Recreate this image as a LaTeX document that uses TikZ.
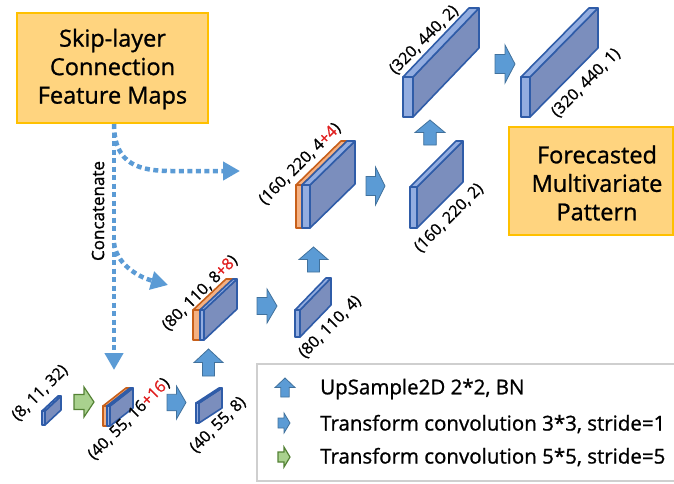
\documentclass[tikz,border=0pt]{standalone}
\usepackage{fontspec}
\setmainfont{Open Sans}[FakeBold=1]
\usetikzlibrary{arrows.meta}
\definecolor{boxfill}{HTML}{FFD47F}
\definecolor{boxline}{HTML}{FFC000}
\definecolor{dotblue}{HTML}{5B9BD5}
\definecolor{arrfill}{HTML}{5B9BD5}
\definecolor{arrline}{HTML}{41719C}
\definecolor{grnfill}{HTML}{A9D18E}
\definecolor{grnline}{HTML}{548235}
\definecolor{sidefill}{HTML}{7B8EBD}
\definecolor{frontfill}{HTML}{93ADE0}
\definecolor{slabline}{HTML}{2F5CA8}
\definecolor{orfill}{HTML}{F4B183}
\definecolor{orline}{HTML}{C8601A}
\definecolor{plusred}{HTML}{E02020}
\definecolor{legline}{HTML}{CFCFCF}
\newcommand{\slab}[7]{%
 \pgfmathsetmacro\slXa{#1}\pgfmathsetmacro\slXb{#1+#3}%
 \pgfmathsetmacro\slYb{#2}\pgfmathsetmacro\slYt{#2-#4}%
 \pgfmathsetmacro\slXc{#1+#5}\pgfmathsetmacro\slXd{#1+#3+#5}%
 \pgfmathsetmacro\slYtt{#2-#4-#6}\pgfmathsetmacro\slYbb{#2-#6}%
 \draw[#7 side] (\slXb,\slYb) -- (\slXb,\slYt) -- (\slXd,\slYtt) -- (\slXd,\slYbb) -- cycle;
 \draw[#7 front] (\slXa,\slYb) rectangle (\slXb,\slYt);
 \draw[#7 front] (\slXa,\slYt) -- (\slXc,\slYtt) -- (\slXd,\slYtt) -- (\slXb,\slYt) -- cycle;
}
\newcommand{\rarrow}[5]{%
 \draw[#5] (#1,{#2+0.25*(#4-#2)}) -- ({(#1+#3)/2},{#2+0.25*(#4-#2)}) -- ({(#1+#3)/2},#2) -- (#3,{(#2+#4)/2}) -- ({(#1+#3)/2},#4) -- ({(#1+#3)/2},{#4-0.25*(#4-#2)}) -- (#1,{#4-0.25*(#4-#2)}) -- cycle;}
\newcommand{\uarrow}[5]{%
 \draw[#5] ({#1+0.29*(#3-#1)},#4) -- ({#1+0.29*(#3-#1)},{(#2+#4)/2}) -- (#1,{(#2+#4)/2}) -- ({(#1+#3)/2},#2) -- (#3,{(#2+#4)/2}) -- ({#3-0.29*(#3-#1)},{(#2+#4)/2}) -- ({#3-0.29*(#3-#1)},#4) -- cycle;}
\tikzset{
 blue side/.style={fill=sidefill, draw=slabline, line width=1.6pt, line join=round},
 blue front/.style={fill=frontfill, draw=slabline, line width=1.6pt, line join=round},
 orange side/.style={fill=orfill, draw=orline, line width=1.6pt, line join=round},
 orange front/.style={fill=orfill, draw=orline, line width=1.6pt, line join=round},
 barrow/.style={fill=arrfill, draw=arrline, line width=0.8pt, line join=miter},
 garrow/.style={fill=grnfill, draw=grnline, line width=1.2pt, line join=miter},
 dotarrow/.style={draw=dotblue, line width=4.5pt, dash pattern=on 5pt off 3.5pt,
   -{Triangle[width=18pt,length=17pt]}},
 notebox/.style={fill=boxfill, draw=boxline, line width=1.2pt, inner sep=0pt},
 boxtext/.style={align=center, inner sep=0pt, font=\fontsize{23.5}{28.5}\selectfont},
 lbl/.style={rotate=45, inner sep=0pt, font=\fontsize{16}{18}\selectfont},
 legtext/.style={anchor=west, inner sep=0pt, font=\fontsize{20.5}{24}\selectfont},
}
\begin{document}
\begin{tikzpicture}[x=1pt,y=-1pt]
\useasboundingbox (0,0) rectangle (674,483);
\clip (0,0) rectangle (674,483);
% note boxes
\node[notebox, minimum width=191pt, minimum height=110pt] (skip) at (112.5,68) {};
\node[boxtext] (skiptext) at (112.5,69) {Skip-layer\\Connection\\Feature Maps};
\node[notebox, minimum width=164pt, minimum height=108pt] (fc) at (591,181) {};
\node[boxtext] (fctext) at (597,183) {Forecasted\\Multivariate\\Pattern};
% dotted connectors
\coordinate (s0) at (114,124);
\coordinate (s1) at (114,243);
\coordinate (t0) at (114,370);
\coordinate (t1) at (240,171);
\coordinate (t2) at (168,285);
\draw[dotarrow] (s0) -- (t0);
\draw[dotarrow] (s0) .. controls (114,165) and (140,171) .. (172,171) -- (t1);
\draw[dotarrow] (s1) .. controls (116,262) and (135,276) .. (t2);
\node[rotate=90, inner sep=0pt, font=\fontsize{17}{20}\selectfont] (concat) at (98,211) {Concatenate};
% feature maps
\slab{42}{425}{3}{14}{16}{15}{blue}
\slab{103}{426}{4}{20}{23}{18}{orange}
\slab{107}{426}{3}{20}{23}{18}{blue}
\slab{196}{423}{3}{20}{23}{15}{blue}
\slab{193}{340}{7}{30}{33}{31}{orange}
\slab{200}{340}{4}{30}{33}{31}{blue}
\slab{295}{337}{5}{27}{31}{32}{blue}
\slab{296}{228}{6}{43}{45}{44}{orange}
\slab{302}{228}{8}{43}{45}{44}{blue}
\slab{410}{228}{7}{41}{46}{46}{blue}
\slab{403}{117}{10}{40}{66}{69}{blue}
\slab{521}{117}{9}{40}{68}{69}{blue}
% block arrows
\rarrow{74}{387}{94}{417}{garrow}
\rarrow{167}{386}{186}{419}{barrow}
\rarrow{257}{289}{277}{323}{barrow}
\rarrow{366}{167}{385}{205}{barrow}
\rarrow{495}{45}{515}{83}{barrow}
\uarrow{194}{349}{223}{376}{barrow}
\uarrow{299}{247}{328}{272}{barrow}
\uarrow{415}{120}{445}{145}{barrow}
% labels
\node[lbl] (l1) at (40,393) {(8, 11, 32)};
\node[lbl] (l2) at (129,419) {(40, 55, 16\textcolor{plusred}{+16})};
\node[lbl] (l3) at (218,425) {(40, 55, 8)};
\node[lbl] (l4) at (200,293) {(80, 110, 8\textcolor{plusred}{+8})};
\node[lbl] (l5) at (330,327) {(80, 110, 4)};
\node[lbl] (l6) at (300,164) {(160, 220, 4\textcolor{plusred}{+4})};
\node[lbl] (l7) at (449,218) {(160, 220, 2)};
\node[lbl] (l8) at (424,40) {(320, 440, 2)};
\node[lbl] (l9) at (586,83) {(320, 440, 1)};
% legend
\draw[legline, line width=2pt] (257,364) rectangle (700,481);
\uarrow{275}{378}{295}{397}{barrow}
\rarrow{278}{413}{290}{433}{barrow}
\rarrow{278}{447}{290}{467}{garrow}
\node[legtext] (g1) at (320,389) {UpSample2D 2*2, BN};
\node[legtext] (g2) at (320,424) {Transform convolution 3*3, stride=1};
\node[legtext] (g3) at (320,457) {Transform convolution 5*5, stride=5};
\end{tikzpicture}
\end{document}
